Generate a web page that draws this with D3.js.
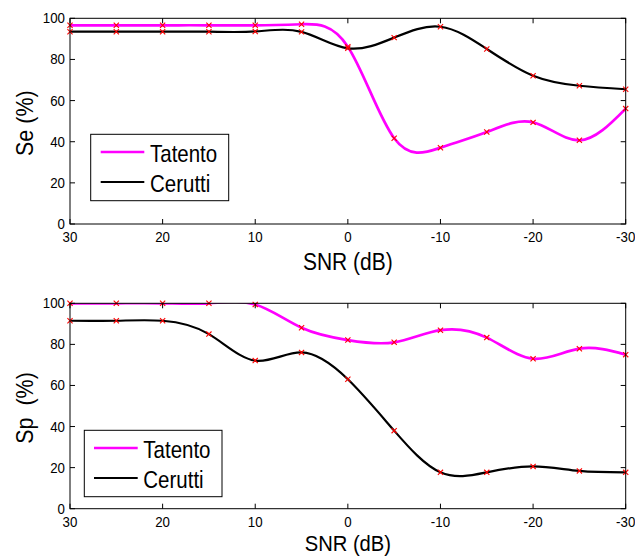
<!DOCTYPE html>
<html><head><meta charset="utf-8">
<script src="https://cdn.jsdelivr.net/npm/d3@7"></script>
<style>body{margin:0;background:#fff}svg{display:block;font-family:"Liberation Sans",Arial,sans-serif}text{white-space:pre}</style>
</head><body>
<script>
const snr = [30,25,20,15,10,5,0,-5,-10,-15,-20,-25,-30];
const xTicks = [30,20,10,0,-10,-20,-30];
const yTicks = [0,20,40,60,80,100];
const seTatento = [96.6,96.6,96.6,96.6,96.6,97.1,86.2,41.7,37.1,44.7,49.4,40.7,56.1];
const seCerutti = [93.5,93.5,93.5,93.5,93.6,93.4,85.4,90.6,95.9,85.1,72.1,67.2,65.5];
const spTatento = [100,100,100,100,99.4,88.1,82.1,81.0,86.9,83.3,73.0,77.9,75.0];
const spCerutti = [91.5,91.5,91.5,85.0,72.1,76.1,63.0,38.0,17.7,17.7,20.6,18.4,17.7];
const seriesNames = ["Tatento","Cerutti"];
const colors = ["#ff00ff","#000000"];

const W=635,H=556;
const svg=d3.select("body").append("svg").attr("width",W).attr("height",H);

const panels=[
 {top:18.3,bottom:224,ylab:"Se (%)",xlabOff:46,xlabSize:21,xlabK:1.12,data:[seTatento,seCerutti],leg:{x:90.7,y:134.3,w:138,h:66.4,lx1:100.7,lx2:144.3,tx:150}},
 {top:303.3,bottom:508.7,ylab:"Sp\u00A0\u00A0(%)",xlabOff:42.3,xlabSize:20.2,xlabK:1.1,data:[spTatento,spCerutti],leg:{x:84.3,y:430.3,w:137.7,h:66.4,lx1:94,lx2:137.7,tx:143.3}}
];
const L=70,R=625.7;

function stretched(g,x,y,txt,size,k,anchor,rot){
  const t=g.append("text")
    .attr("transform",`translate(${x},${y})${rot?" rotate(-90)":""} scale(1,${k})`)
    .attr("font-size",size).text(txt);
  if(anchor) t.attr("text-anchor",anchor);
  return t;
}

panels.forEach((p,pi)=>{
  const x=d3.scaleLinear().domain([30,-30]).range([L,R]);
  const y=d3.scaleLinear().domain([0,100]).range([p.bottom,p.top]);
  const g=svg.append("g");
  const cid="clip"+pi;
  svg.append("clipPath").attr("id",cid).append("rect").attr("x",L).attr("y",p.top).attr("width",R-L).attr("height",p.bottom-p.top);
  const line=d3.line().x((d,i)=>x(snr[i])).y(d=>y(d)).curve(d3.curveNatural);
  const lg=g.append("g").attr("clip-path",`url(#${cid})`);
  p.data.forEach((s,si)=>{
    lg.append("path").attr("d",line(s)).attr("fill","none").attr("stroke",colors[si]).attr("stroke-width",si==0?2.7:2.2);
  });
  p.data.forEach(s=>{
    s.forEach((v,i)=>{
      const cx=x(snr[i]),cy=y(v),r=2.6;
      g.append("path").attr("d",`M${cx-r},${cy-r}L${cx+r},${cy+r}M${cx-r},${cy+r}L${cx+r},${cy-r}`).attr("stroke","#ff0000").attr("stroke-width",1.1);
    });
  });
  g.append("rect").attr("x",L).attr("y",p.top).attr("width",R-L).attr("height",p.bottom-p.top).attr("fill","none").attr("stroke","#000").attr("stroke-width",1);
  const tl=5;
  xTicks.forEach(t=>{
    const xx=x(t);
    g.append("line").attr("x1",xx).attr("x2",xx).attr("y1",p.bottom).attr("y2",p.bottom-tl).attr("stroke","#000");
    g.append("line").attr("x1",xx).attr("x2",xx).attr("y1",p.top).attr("y2",p.top+tl).attr("stroke","#000");
    stretched(g,xx,p.bottom+18.2,t,13.3,1.06,"middle");
  });
  yTicks.forEach(t=>{
    const yy=y(t);
    g.append("line").attr("x1",L).attr("x2",L+tl).attr("y1",yy).attr("y2",yy).attr("stroke","#000");
    g.append("line").attr("x1",R).attr("x2",R-tl).attr("y1",yy).attr("y2",yy).attr("stroke","#000");
    stretched(g,L-5,yy+5,t,13.3,1.06,"end");
  });
  stretched(g,33,(p.top+p.bottom)/2+2,p.ylab,21.5,1.12,"middle",true);
  stretched(g,(L+R)/2,p.bottom+p.xlabOff,"SNR (dB)",p.xlabSize,p.xlabK,"middle");
  const lgd=p.leg;
  g.append("rect").attr("x",lgd.x).attr("y",lgd.y).attr("width",lgd.w).attr("height",lgd.h).attr("fill","#fff").attr("stroke","#000").attr("stroke-width",1);
  seriesNames.forEach((n,i)=>{
    const yy=lgd.y+17.7+i*30;
    g.append("line").attr("x1",lgd.lx1).attr("x2",lgd.lx2).attr("y1",yy).attr("y2",yy).attr("stroke",colors[i]).attr("stroke-width",i==0?2.7:2.2);
    stretched(g,lgd.tx,yy+9.5,n,20.5,1.18);
  });
});
</script>
</body></html>
